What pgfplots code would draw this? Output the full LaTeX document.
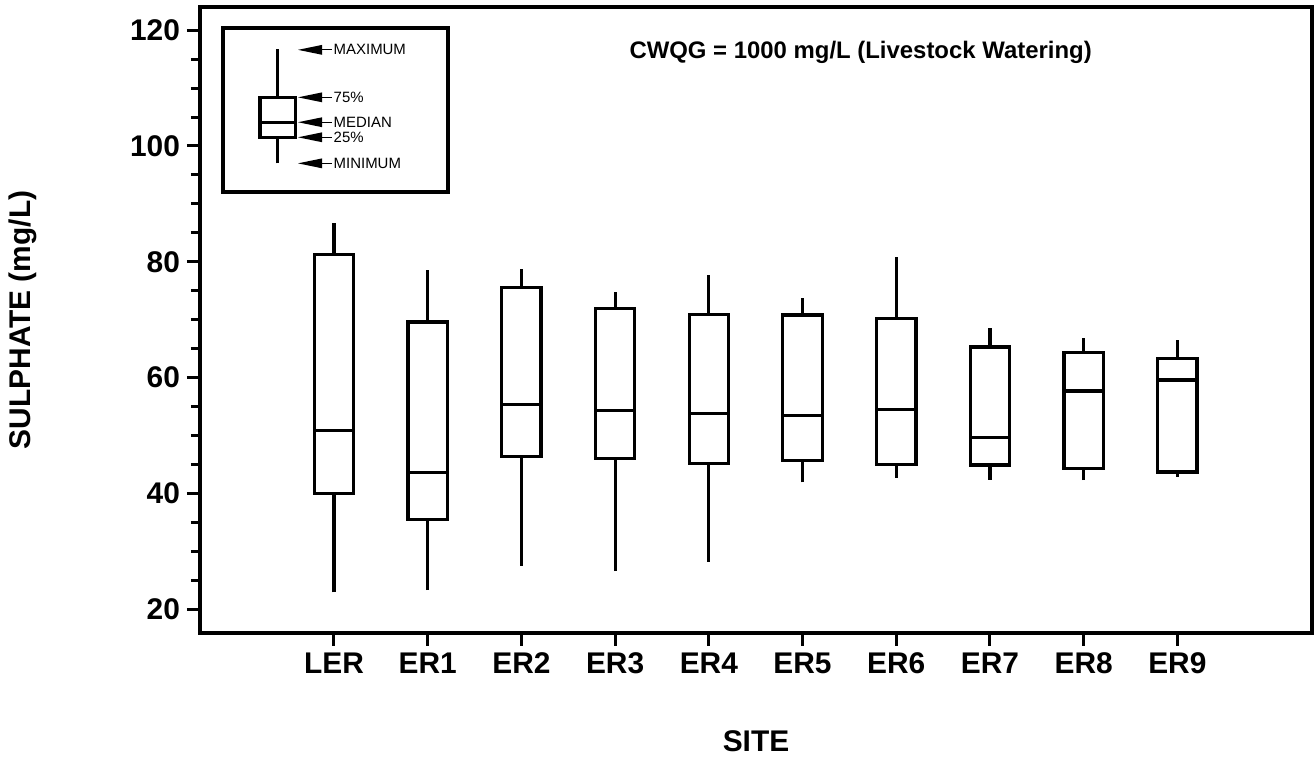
\documentclass[border=0pt]{standalone}
\usepackage{fontspec}
\setmainfont{Liberation Sans}
\usepackage{pgfplots}
\pgfplotsset{compat=1.18}

% one box: centre, left edge, right edge, minimum, 25%, median, 75%, maximum
\newcommand\sitebox[8]{%
  \addplot[black, line width=1.6bp, line join=miter, unbounded coords=jump] coordinates {
    (#1,#4) (#1,#5) (#1,nan)
    (#1,#5) (#3,#5) (#3,#7) (#2,#7) (#2,#5) (#1,#5) (#1,nan)
    (#2,#6) (#3,#6) (#1,nan)
    (#1,#7) (#1,#8)
  };}
\newcommand\keyfont{\fontsize{7.5}{9}\selectfont}

\begin{document}
\begin{tikzpicture}
\begin{axis}[
  scale only axis, width=556bp, height=313bp,
  xmin=-1.43, xmax=10.437, ymin=15.9, ymax=124,
  axis line style={line width=2bp},
  tick align=outside, tick pos=left,
  xtick={0,...,9},
  xticklabels={LER,ER1,ER2,ER3,ER4,ER5,ER6,ER7,ER8,ER9},
  ytick={20,40,...,120}, minor y tick num=3,
  major tick length=6.5bp, minor tick length=4.5bp,
  tick style={line width=1.5bp, black},
  tick label style={font=\fontsize{15}{18}\selectfont\bfseries},
  /pgf/number format/assume math mode=true,
  xlabel={SITE}, ylabel={SULPHATE (mg/L)},
  label style={font=\fontsize{15}{18}\selectfont\bfseries},
  xlabel style={at={([yshift=-54bp]axis description cs:0.5,0)}, anchor=center},
  ylabel style={at={([xshift=-88.5bp]axis description cs:0,0.5)}, anchor=center},
]
\sitebox{0}{-0.21}{0.21}{22.9}{40.0}{50.8}{81.3}{86.7}
\sitebox{1}{0.79}{1.21}{23.3}{35.5}{43.6}{69.6}{78.5}
\sitebox{2}{1.79}{2.21}{27.5}{46.4}{55.4}{75.6}{78.8}
\sitebox{3}{2.79}{3.21}{26.6}{46.0}{54.3}{71.9}{74.8}
\sitebox{4}{3.79}{4.21}{28.2}{45.2}{53.8}{70.9}{77.7}
\sitebox{5}{4.79}{5.21}{41.9}{45.7}{53.5}{70.8}{73.7}
\sitebox{6}{5.79}{6.21}{42.7}{45.0}{54.5}{70.2}{80.8}
\sitebox{7}{6.79}{7.21}{42.4}{44.9}{49.7}{65.3}{68.6}
\sitebox{8}{7.79}{8.21}{42.3}{44.3}{57.7}{64.3}{66.9}
\sitebox{9}{8.79}{9.21}{42.9}{43.7}{59.6}{63.3}{66.5}

% key explaining the box
\draw[line width=2bp] (axis cs:-1.185,92.0) rectangle (axis cs:1.217,120.35);
\sitebox{-0.6}{-0.79}{-0.41}{97.0}{101.5}{104.1}{108.4}{116.7}
\fill (axis cs:-0.384,116.6) -- (axis cs:-0.128,117.45) -- (axis cs:-0.128,115.75) -- cycle;
\draw[line width=0.6bp] (axis cs:-0.13,116.6) -- (axis cs:-0.02,116.6) node[right, inner sep=0.5bp, font=\keyfont] {MAXIMUM};
\fill (axis cs:-0.384,108.4) -- (axis cs:-0.128,109.25) -- (axis cs:-0.128,107.55) -- cycle;
\draw[line width=0.6bp] (axis cs:-0.13,108.4) -- (axis cs:-0.02,108.4) node[right, inner sep=0.5bp, font=\keyfont] {75\%};
\fill (axis cs:-0.384,104.1) -- (axis cs:-0.128,104.95) -- (axis cs:-0.128,103.25) -- cycle;
\draw[line width=0.6bp] (axis cs:-0.13,104.1) -- (axis cs:-0.02,104.1) node[right, inner sep=0.5bp, font=\keyfont] {MEDIAN};
\fill (axis cs:-0.384,101.5) -- (axis cs:-0.128,102.35) -- (axis cs:-0.128,100.65) -- cycle;
\draw[line width=0.6bp] (axis cs:-0.13,101.5) -- (axis cs:-0.02,101.5) node[right, inner sep=0.5bp, font=\keyfont] {25\%};
\fill (axis cs:-0.384,97.0) -- (axis cs:-0.128,97.85) -- (axis cs:-0.128,96.15) -- cycle;
\draw[line width=0.6bp] (axis cs:-0.13,97.0) -- (axis cs:-0.02,97.0) node[right, inner sep=0.5bp, font=\keyfont] {MINIMUM};

\node[font=\fontsize{12}{14}\selectfont\bfseries] at (axis cs:5.62,116.2) {CWQG = 1000 mg/L (Livestock Watering)};
\end{axis}
\path ([shift={(-100bp,-62bp)}]current axis.south west) rectangle ([shift={(1bp,3.5bp)}]current axis.north east);
\end{tikzpicture}
\end{document}
